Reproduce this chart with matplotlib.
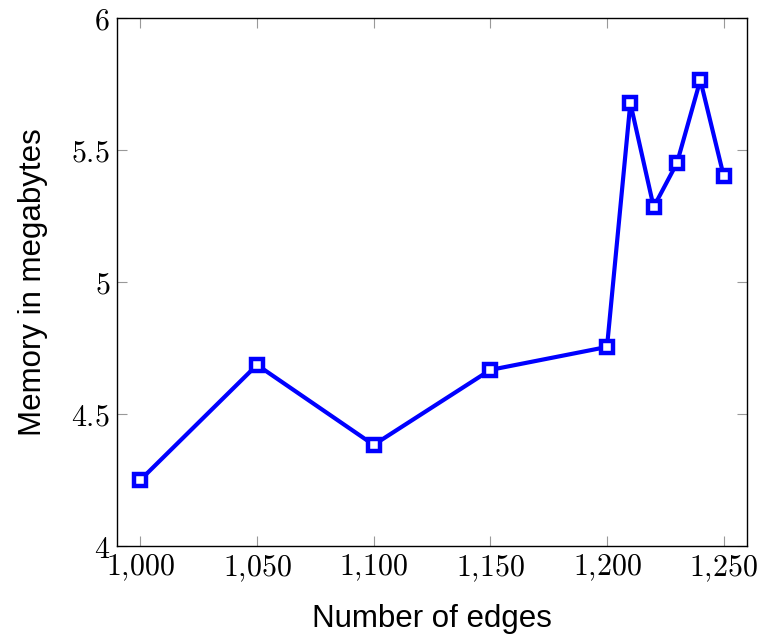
import matplotlib
matplotlib.use("Agg")
import matplotlib.pyplot as plt
from matplotlib.ticker import FuncFormatter

edges = [1000, 1050, 1100, 1150, 1200, 1210, 1220, 1230, 1240, 1250]
memory = [4.25, 4.686, 4.383, 4.667, 4.754, 5.678, 5.284, 5.451, 5.765, 5.402]
xticks = [1000, 1050, 1100, 1150, 1200, 1250]
yticks = [4, 4.5, 5, 5.5, 6]

plt.rcParams['mathtext.fontset'] = 'cm'

fig = plt.figure(figsize=(7.61, 6.36), dpi=100)
ax = fig.add_axes([117/761, 1-546/636, 630/761, 528/636])

ax.plot(edges, memory, color='#0000ff', linewidth=3.0, marker='s', markersize=9,
        markerfacecolor='white', markeredgecolor='#0000ff', markeredgewidth=3.2, zorder=3)

ax.set_xlim(990, 1260)
ax.set_ylim(4, 6)
ax.set_xticks(xticks)
ax.set_yticks(yticks)
ax.xaxis.set_major_formatter(FuncFormatter(lambda v, p: r'$%s$' % '{:,}'.format(int(v)).replace(',', '{,}')))
ax.yaxis.set_major_formatter(FuncFormatter(lambda v, p: r'$%g$' % v))
ax.tick_params(direction='in', length=7, width=0.8, color='#999999', labelsize=21.5,
               top=True, right=True, pad=5)
for s in ax.spines.values():
    s.set_linewidth(1.0)
    s.set_color('black')

ax.set_xlabel('Number of edges', fontsize=22.5, family='Liberation Sans', labelpad=14)
ax.set_ylabel('Memory in megabytes', fontsize=22.5, family='Liberation Sans', labelpad=17)

fig.savefig('out.png', dpi=100)
